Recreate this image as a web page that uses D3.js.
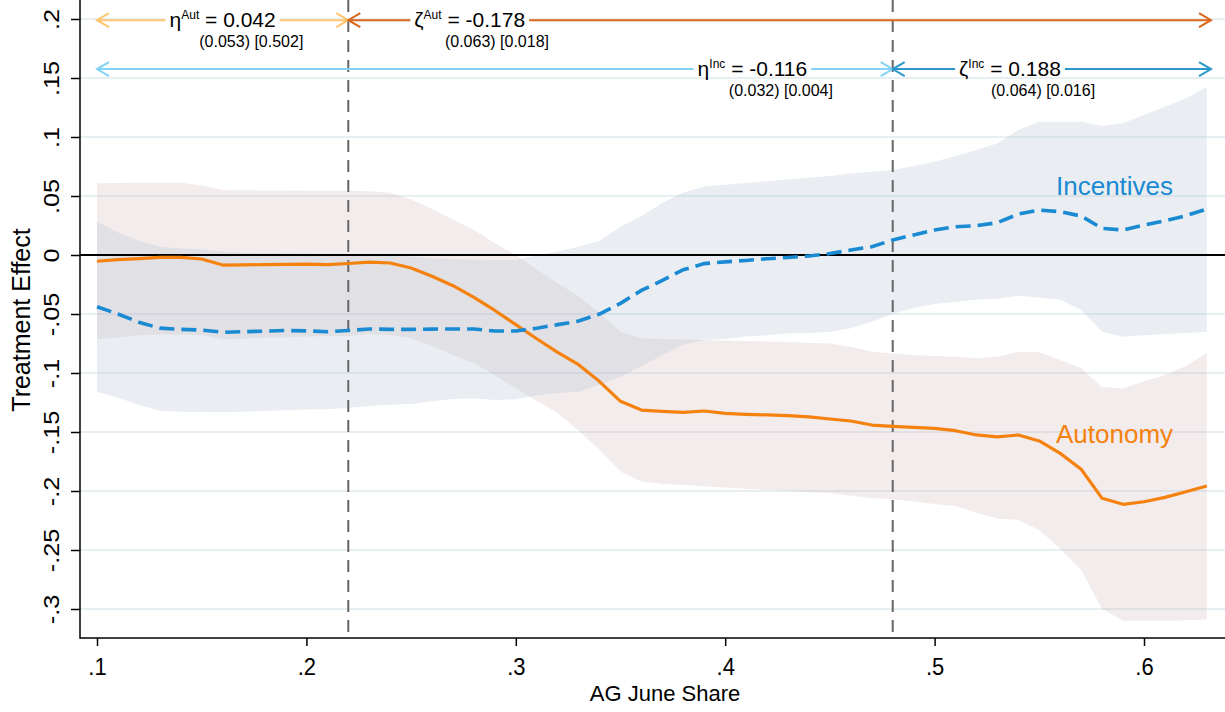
<!DOCTYPE html>
<html><head><meta charset="utf-8">
<script src="https://cdn.jsdelivr.net/npm/d3@7"></script>
<style>
body{margin:0;background:#fff}
svg{display:block}
text{font-family:"Liberation Sans",Arial,Helvetica,sans-serif;fill:#000}
</style>
</head><body>
<svg id="chart" width="1225" height="712"></svg>
<script>
// ---------- data ----------
const xs = [0.10,0.11,0.12,0.13,0.14,0.15,0.16,0.17,0.18,0.19,
            0.20,0.21,0.22,0.23,0.24,0.25,0.26,0.27,0.28,0.29,
            0.30,0.31,0.32,0.33,0.34,0.35,0.36,0.37,0.38,0.39,
            0.40,0.41,0.42,0.43,0.44,0.45,0.46,0.47,0.48,0.49,
            0.50,0.51,0.52,0.53,0.54,0.55,0.56,0.57,0.58,0.59,
            0.60,0.61,0.62,0.63];
const autonomy = [-0.0053,-0.004,-0.003,-0.002,-0.002,-0.0034,-0.0085,-0.0083,-0.0082,-0.008,
                  -0.0078,-0.0082,-0.0072,-0.006,-0.0068,-0.011,-0.018,-0.026,-0.036,-0.047,
                  -0.059,-0.071,-0.0825,-0.093,-0.1073,-0.124,-0.1314,-0.1325,-0.1333,-0.1322,
                  -0.1342,-0.135,-0.1355,-0.1362,-0.1372,-0.139,-0.1407,-0.1441,-0.1452,-0.146,
                  -0.1469,-0.1489,-0.1525,-0.1542,-0.1525,-0.1576,-0.1681,-0.1816,-0.2062,-0.2113,
                  -0.2091,-0.2054,-0.2006,-0.1958];
const autonomyLo = [-0.0715,-0.070,-0.068,-0.0672,-0.0675,-0.0678,-0.0715,-0.071,-0.070,-0.070,
                    -0.069,-0.0688,-0.0686,-0.0669,-0.068,-0.0706,-0.077,-0.085,-0.0918,-0.102,
                    -0.113,-0.1235,-0.134,-0.149,-0.165,-0.1836,-0.192,-0.194,-0.195,-0.196,
                    -0.197,-0.198,-0.199,-0.200,-0.201,-0.2018,-0.204,-0.206,-0.207,-0.209,
                    -0.211,-0.2127,-0.2184,-0.2232,-0.2246,-0.233,-0.249,-0.267,-0.300,-0.310,
                    -0.310,-0.310,-0.3095,-0.309];
const autonomyHi = [0.0607,0.061,0.0613,0.0613,0.0613,0.059,0.055,0.0548,0.0547,0.0546,
                    0.0545,0.0545,0.0545,0.054,0.0528,0.047,0.039,0.030,0.0212,0.010,
                    0.000,-0.012,-0.024,-0.035,-0.049,-0.065,-0.0706,-0.0712,-0.0716,-0.072,
                    -0.0724,-0.0728,-0.0732,-0.0738,-0.0745,-0.0749,-0.0777,-0.082,-0.0835,-0.085,
                    -0.0855,-0.0862,-0.0876,-0.0862,-0.082,-0.0825,-0.089,-0.096,-0.112,-0.113,
                    -0.1073,-0.1017,-0.094,-0.0833];
const incentives = [-0.0438,-0.050,-0.057,-0.062,-0.063,-0.0636,-0.0655,-0.065,-0.0645,-0.064,
                    -0.0643,-0.065,-0.064,-0.0627,-0.063,-0.063,-0.0628,-0.0627,-0.0627,-0.0644,
                    -0.0644,-0.062,-0.059,-0.056,-0.050,-0.041,-0.030,-0.0215,-0.0125,-0.0073,
                    -0.0058,-0.0046,-0.0032,-0.0021,-0.0008,0.0012,0.0042,0.007,0.0127,0.017,
                    0.0212,0.024,0.0248,0.0274,0.0347,0.0381,0.0367,0.033,0.0226,0.0212,
                    0.0254,0.029,0.0333,0.039];
const incentivesLo = [-0.1158,-0.121,-0.127,-0.132,-0.1328,-0.133,-0.1333,-0.1328,-0.132,-0.1315,
                      -0.131,-0.1308,-0.1295,-0.128,-0.127,-0.1263,-0.124,-0.122,-0.1215,-0.1229,
                      -0.1223,-0.119,-0.117,-0.1158,-0.110,-0.1031,-0.094,-0.085,-0.076,-0.072,
                      -0.0712,-0.069,-0.068,-0.0665,-0.066,-0.065,-0.062,-0.0565,-0.050,-0.045,
                      -0.0415,-0.0396,-0.038,-0.037,-0.0345,-0.036,-0.038,-0.0466,-0.065,-0.0692,
                      -0.068,-0.067,-0.066,-0.065];
const incentivesHi = [0.0282,0.019,0.012,0.007,0.0055,0.0048,0.0028,0.002,0.0015,0.0012,
                      0.001,0.0008,0.0008,0.0005,-0.0005,-0.0015,-0.0028,-0.0035,-0.004,-0.0042,
                      -0.0042,-0.0005,0.003,0.007,0.012,0.024,0.033,0.044,0.053,0.058,
                      0.0595,0.061,0.0625,0.064,0.0655,0.067,0.069,0.0705,0.072,0.0755,
                      0.079,0.084,0.089,0.0947,0.106,0.113,0.113,0.113,0.1093,0.1116,
                      0.1186,0.1257,0.1328,0.1426];

const yTicks = [0.2,0.15,0.1,0.05,0,-0.05,-0.1,-0.15,-0.2,-0.25,-0.3];
const yTickLabels = [".2",".15",".1",".05","0","-.05","-.1","-.15","-.2","-.25","-.3"];
const xTicks = [0.1,0.2,0.3,0.4,0.5,0.6];
const xTickLabels = [".1",".2",".3",".4",".5",".6"];
const cutoffs = [0.22,0.48];

// annotation arrows (estimate, SE/p text, span)
const annoSymbol = ["η","ζ","η","ζ"];
const annoSup    = ["Aut","Aut","Inc","Inc"];
const annoValue  = ["0.042","-0.178","-0.116","0.188"];
const annoStats  = ["(0.053) [0.502]","(0.063) [0.018]","(0.032) [0.004]","(0.064) [0.016]"];
const annoFrom   = [0.10,0.22,0.10,0.48];
const annoTo     = [0.22,0.632,0.48,0.632];
const annoLevel  = [0.199,0.199,0.1576,0.1576];
const annoLabelX = [0.16,0.278,0.413,0.536];
const annoStatsX = [0.1737,0.291,0.4266,0.5518];
const annoColor  = ["#ffc66e","#d9661c","#82d3f6","#2a98c8"];

// ---------- drawing ----------
const svg = d3.select("#chart");
const W = 1225, H = 712;
const left = 80, bottom = 638;
const x = d3.scaleLinear().domain([0.1,0.6]).range([97,1144]);
const y = d3.scaleLinear().domain([-0.3,0.2]).range([609,19]);

const rows = xs.map((v,i)=>({x:v, aut:autonomy[i], autLo:autonomyLo[i], autHi:autonomyHi[i],
  inc:incentives[i], incLo:incentivesLo[i], incHi:incentivesHi[i]}));

// gridlines
svg.append("g").selectAll("line").data(yTicks.filter(v=>v!==0)).join("line")
  .attr("x1",left).attr("x2",W).attr("y1",d=>y(d)).attr("y2",d=>y(d))
  .attr("stroke","#e7eff2").attr("stroke-width",2);

// bands
svg.append("path").datum(rows)
  .attr("d", d3.area().x(d=>x(d.x)).y0(d=>y(d.autLo)).y1(d=>y(d.autHi)))
  .attr("fill","rgba(205,172,172,0.23)");
svg.append("path").datum(rows)
  .attr("d", d3.area().x(d=>x(d.x)).y0(d=>y(d.incLo)).y1(d=>y(d.incHi)))
  .attr("fill","rgba(178,194,210,0.27)");

// zero line
svg.append("line").attr("x1",left).attr("x2",W).attr("y1",y(0)).attr("y2",y(0))
  .attr("stroke","#000").attr("stroke-width",1.8);

// cutoff dashed lines
svg.append("g").selectAll("line").data(cutoffs).join("line")
  .attr("x1",d=>x(d)).attr("x2",d=>x(d)).attr("y1",0).attr("y2",bottom)
  .attr("stroke","#666").attr("stroke-width",2).attr("stroke-dasharray","12,8");

// series lines
svg.append("path").datum(rows)
  .attr("d", d3.line().x(d=>x(d.x)).y(d=>y(d.aut)))
  .attr("fill","none").attr("stroke","#f5820f").attr("stroke-width",3.2).attr("stroke-linejoin","round");
svg.append("path").datum(rows)
  .attr("d", d3.line().x(d=>x(d.x)).y(d=>y(d.inc)))
  .attr("fill","none").attr("stroke","#1a8ad2").attr("stroke-width",3.6).attr("stroke-dasharray","15,7");

// series labels
svg.append("text").attr("x",1056).attr("y",195).attr("font-size",26).style("fill","#1a8ad2").text("Incentives");
svg.append("text").attr("x",1056).attr("y",443).attr("font-size",26).style("fill","#f5820f").text("Autonomy");

// axes
const yAxis = svg.append("g").attr("transform",`translate(${left},0)`)
  .call(d3.axisLeft(y).tickValues(yTicks).tickFormat((d,i)=>yTickLabels[i]).tickSize(9));
yAxis.select(".domain").remove();
yAxis.selectAll(".tick line").attr("stroke","#000").attr("stroke-width",1.5);
yAxis.selectAll(".tick text").attr("x",0).attr("dy",0).attr("text-anchor","middle")
  .attr("transform","translate(-21,0) rotate(-90) scale(1.15,1)").attr("font-size",22)
  .style("font-family",'"Liberation Sans",Arial,sans-serif');

const xAxis = svg.append("g").attr("transform",`translate(0,${bottom})`)
  .call(d3.axisBottom(x).tickValues(xTicks).tickFormat((d,i)=>xTickLabels[i]).tickSize(8));
xAxis.select(".domain").remove();
xAxis.selectAll(".tick line").attr("stroke","#000").attr("stroke-width",1.5);
xAxis.selectAll(".tick text").attr("y",0).attr("dy",0).attr("font-size",22)
  .attr("transform","translate(0,37) scale(1,1.1)")
  .style("font-family",'"Liberation Sans",Arial,sans-serif');

svg.append("line").attr("x1",left).attr("x2",left).attr("y1",0).attr("y2",bottom+0.75)
  .attr("stroke","#000").attr("stroke-width",1.5);
svg.append("line").attr("x1",left).attr("x2",W).attr("y1",bottom).attr("y2",bottom)
  .attr("stroke","#000").attr("stroke-width",1.5);

svg.append("text").attr("x",665).attr("y",701).attr("text-anchor","middle").attr("font-size",22).text("AG June Share");
svg.append("text").attr("transform","translate(30,320) rotate(-90)").attr("text-anchor","middle").attr("font-size",25).text("Treatment Effect");

// annotation arrows
const annoG = svg.append("g");
annoSymbol.forEach((s,i)=>{
  const x1 = x(annoFrom[i]), x2 = x(annoTo[i]), yy = y(annoLevel[i]), c = annoColor[i];
  const g = annoG.append("g");
  g.append("line").attr("x1",x1).attr("x2",x2).attr("y1",yy).attr("y2",yy)
    .attr("stroke",c).attr("stroke-width",2);
  const head = (tx,dir)=>`M${tx+dir*12},${yy-7}L${tx},${yy}L${tx+dir*12},${yy+7}`;
  g.append("path").attr("d",head(x1,1)+head(x2,-1)).attr("fill","none")
    .attr("stroke",c).attr("stroke-width",2).attr("stroke-linejoin","miter");
});
annoSymbol.forEach((s,i)=>{
  const yy = y(annoLevel[i]);
  const g = annoG.append("g");
  const rect = g.append("rect").attr("fill","#fff");
  const t = g.append("text").attr("x",x(annoLabelX[i])).attr("y",yy+7)
    .attr("text-anchor","middle").attr("font-size",21);
  t.append("tspan").text(s);
  t.append("tspan").attr("font-size",12).attr("dy",-8).text(annoSup[i]);
  t.append("tspan").attr("dy",8).text(" = " + annoValue[i]);
  const bb = t.node().getBBox();
  rect.attr("x",bb.x-4).attr("y",yy-4).attr("width",bb.width+8).attr("height",8);
  g.append("text").attr("x",x(annoStatsX[i])).attr("y",yy+27)
    .attr("text-anchor","middle").attr("font-size",16).text(annoStats[i]);
});
</script>
</body></html>
